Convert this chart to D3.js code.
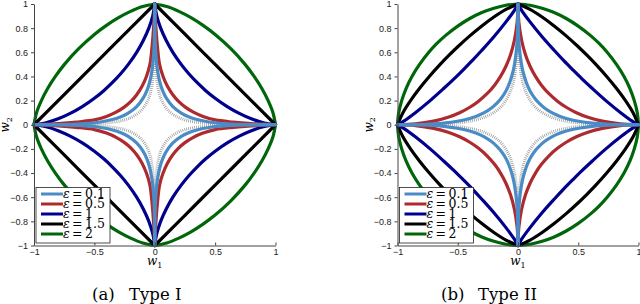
<!DOCTYPE html>
<html>
<head>
<meta charset="utf-8">
<script src="https://cdn.jsdelivr.net/npm/d3@7"></script>
<style>
  body { margin: 0; background: #fff; }
  svg { display: block; }
</style>
</head>
<body>
<svg id="chart" width="640" height="304"></svg>
<script>
// legend entries and ticks
const epsLabels = ["0.1", "0.5", "1", "1.5", "2"];
const xTickValues = [-1, -0.5, 0, 0.5, 1];
const yTickValues = [-1, -0.8, -0.6, -0.4, -0.2, 0, 0.2, 0.4, 0.6, 0.8, 1];
const captionTags = ["(a)", "(b)"];
const captionTitles = ["Type I", "Type II"];

// first quadrant of each curve [w1, w2] (other quadrants are mirror images)
const typeILimit = [[0, 1], [0.0005, 0.75], [0.003, 0.6], [0.01, 0.45], [0.02, 0.35], [0.04, 0.25], [0.068, 0.18], [0.115, 0.115], [0.18, 0.068], [0.25, 0.04], [0.35, 0.02], [0.45, 0.01], [0.6, 0.003], [0.75, 0.0005], [1, 0]];
const typeIEps01 = [[0, 1], [0.0018, 0.75], [0.008, 0.6], [0.023, 0.45], [0.043, 0.35], [0.066, 0.28], [0.096, 0.22], [0.15, 0.15], [0.22, 0.096], [0.28, 0.066], [0.35, 0.043], [0.45, 0.023], [0.6, 0.008], [0.75, 0.0018], [1, 0]];
const typeIEps05 = [[0, 1], [0.01, 0.8], [0.022, 0.65], [0.04, 0.5], [0.069, 0.4], [0.104, 0.32], [0.148, 0.25], [0.195, 0.195], [0.25, 0.148], [0.32, 0.104], [0.4, 0.069], [0.5, 0.04], [0.65, 0.022], [0.8, 0.01], [1, 0]];
const typeIEps1 = [[0, 1], [0.017, 0.9], [0.049, 0.8], [0.094, 0.7], [0.15, 0.6], [0.219, 0.5], [0.284, 0.42], [0.35, 0.35], [0.42, 0.284], [0.5, 0.219], [0.6, 0.15], [0.7, 0.094], [0.8, 0.049], [0.9, 0.017], [1, 0]];
const typeIEps15 = [[0, 1], [0.25, 0.75], [0.5, 0.5], [0.75, 0.25], [1, 0]];
const typeIEps2 = [[0, 1], [0.1, 0.979], [0.2, 0.939], [0.3, 0.887], [0.4, 0.823], [0.5, 0.748], [0.63, 0.63], [0.748, 0.5], [0.823, 0.4], [0.887, 0.3], [0.939, 0.2], [0.979, 0.1], [1, 0]];

const typeIILimit = [[0, 1], [0.0016, 0.75], [0.007, 0.6], [0.021, 0.45], [0.04, 0.35], [0.066, 0.27], [0.102, 0.2], [0.145, 0.145], [0.2, 0.102], [0.27, 0.066], [0.35, 0.04], [0.45, 0.021], [0.6, 0.007], [0.75, 0.0016], [1, 0]];
const typeIIEps01 = [[0, 1], [0.004, 0.75], [0.015, 0.6], [0.039, 0.45], [0.069, 0.35], [0.1, 0.28], [0.139, 0.22], [0.177, 0.177], [0.22, 0.139], [0.28, 0.1], [0.35, 0.069], [0.45, 0.039], [0.6, 0.015], [0.75, 0.004], [1, 0]];
const typeIIEps05 = [[0, 1], [0.007, 0.85], [0.03, 0.7], [0.062, 0.58], [0.102, 0.48], [0.145, 0.4], [0.193, 0.33], [0.257, 0.257], [0.33, 0.193], [0.4, 0.145], [0.48, 0.102], [0.58, 0.062], [0.7, 0.03], [0.85, 0.007], [1, 0]];
const typeIIEps1 = [[0, 1], [0.03, 0.948], [0.1, 0.852], [0.2, 0.729], [0.3, 0.617], [0.38, 0.531], [0.455, 0.455], [0.531, 0.38], [0.617, 0.3], [0.729, 0.2], [0.852, 0.1], [0.948, 0.03], [1, 0]];
const typeIIEps15 = [[0, 1], [0.1, 0.955], [0.2, 0.892], [0.3, 0.818], [0.4, 0.736], [0.5, 0.646], [0.574, 0.574], [0.646, 0.5], [0.736, 0.4], [0.818, 0.3], [0.892, 0.2], [0.955, 0.1], [1, 0]];
const typeIIEps2 = [[0, 1], [0.1, 0.99], [0.2, 0.965], [0.3, 0.929], [0.4, 0.88], [0.5, 0.817], [0.6, 0.74], [0.673, 0.673], [0.74, 0.6], [0.817, 0.5], [0.88, 0.4], [0.929, 0.3], [0.965, 0.2], [0.99, 0.1], [1, 0]];

const epsColors = ["#4a8dc6", "#ad2a2e", "#00008c", "#000000", "#00660a"];
const limitColor = "#9c9c9c";
const serif = "'DejaVu Serif', serif";
const sans = "'Liberation Sans', Arial, sans-serif";

const svg = d3.select("#chart");

const panels = [
  { tag: captionTags[0], title: captionTitles[0], limit: typeILimit,
    curves: [typeIEps01, typeIEps05, typeIEps1, typeIEps15, typeIEps2],
    left: 34, right: 275.5, tagX: 92, titleX: 129 },
  { tag: captionTags[1], title: captionTitles[1], limit: typeIILimit,
    curves: [typeIIEps01, typeIIEps05, typeIIEps1, typeIIEps15, typeIIEps2],
    left: 397.5, right: 638.5, tagX: 441, titleX: 478 }
];

const quadrants = [[1, 1], [1, -1], [-1, -1], [-1, 1]];
const fmt = d3.format("~g");

function drawPanel(p) {
  const x = d3.scaleLinear().domain([-1, 1]).range([p.left, p.right]);
  const y = d3.scaleLinear().domain([-1, 1]).range([245.5, 4]);
  const g = svg.append("g");

  const line = d3.line()
    .x((d) => x(d[0]))
    .y((d) => y(d[1]))
    .curve(d3.curveCatmullRom.alpha(0.5));

  // one path per quadrant, cusps sit on the axes
  function drawCurve(pts, color, width, dash) {
    quadrants.forEach(([sx, sy]) => {
      g.append("path")
        .attr("d", line(pts.map((d) => [sx * d[0], sy * d[1]])))
        .attr("fill", "none")
        .attr("stroke", color)
        .attr("stroke-width", width)
        .attr("stroke-linecap", dash ? "butt" : "round")
        .attr("stroke-dasharray", dash || null);
    });
  }

  drawCurve(p.limit, limitColor, 3, "0.8 1.2");
  for (let i = p.curves.length - 1; i >= 0; i--) {
    drawCurve(p.curves[i], epsColors[i], 3.2);
  }

  // axes (box off)
  const yAxis = g.append("g")
    .attr("transform", `translate(${p.left},0)`)
    .call(d3.axisLeft(y).tickValues(yTickValues).tickSize(3).tickSizeOuter(0).tickPadding(3).tickFormat(fmt));
  const xAxis = g.append("g")
    .attr("transform", `translate(0,${y(-1)})`)
    .call(d3.axisBottom(x).tickValues(xTickValues).tickSize(-3).tickSizeOuter(0).tickPadding(3).tickFormat(fmt));
  [xAxis, yAxis].forEach((a) => {
    a.attr("font-family", sans).attr("font-size", 9);
    a.selectAll("path, line").attr("stroke", "#444");
    a.selectAll("text").attr("fill", "#222");
  });

  // legend
  const bx = p.left + 2, by = 187.5;
  const lg = g.append("g");
  lg.append("rect")
    .attr("x", bx).attr("y", by)
    .attr("width", 74).attr("height", 55.5)
    .attr("fill", "#fff")
    .attr("stroke", "#222")
    .attr("stroke-width", 0.8);
  epsLabels.forEach((lab, i) => {
    const ry = 194 + i * 10;
    lg.append("line")
      .attr("x1", bx + 5).attr("x2", bx + 27)
      .attr("y1", ry).attr("y2", ry)
      .attr("stroke", epsColors[i])
      .attr("stroke-width", 3);
    lg.append("text")
      .attr("x", bx + 27).attr("y", ry + 4)
      .attr("font-family", serif).attr("font-style", "italic").attr("font-size", 12.5)
      .text("ε");
    lg.append("text")
      .attr("x", bx + 36).attr("y", ry + 4)
      .attr("font-family", serif).attr("font-size", 12.5)
      .text("=");
    lg.append("text")
      .attr("x", bx + 49).attr("y", ry + 4)
      .attr("font-family", serif).attr("font-size", 12.5)
      .text(lab);
  });

  // axis labels
  const w1 = g.append("text")
    .attr("x", x(0)).attr("y", 265)
    .attr("text-anchor", "middle")
    .attr("font-family", serif);
  w1.append("tspan").attr("font-style", "italic").attr("font-size", 12).text("w");
  w1.append("tspan").attr("font-size", 8).attr("dy", 2.5).text("1");

  const w2 = g.append("text")
    .attr("transform", `translate(${p.left - 25},${y(0)}) rotate(-90)`)
    .attr("text-anchor", "middle")
    .attr("font-family", serif);
  w2.append("tspan").attr("font-style", "italic").attr("font-size", 12).text("w");
  w2.append("tspan").attr("font-size", 8).attr("dy", 2.5).text("2");

  // caption
  g.append("text")
    .attr("x", p.tagX).attr("y", 300)
    .attr("font-family", serif).attr("font-size", 16.5)
    .text(p.tag);
  g.append("text")
    .attr("x", p.titleX).attr("y", 300)
    .attr("font-family", serif).attr("font-size", 16.5)
    .text(p.title);
}

panels.forEach(drawPanel);
</script>
</body>
</html>
